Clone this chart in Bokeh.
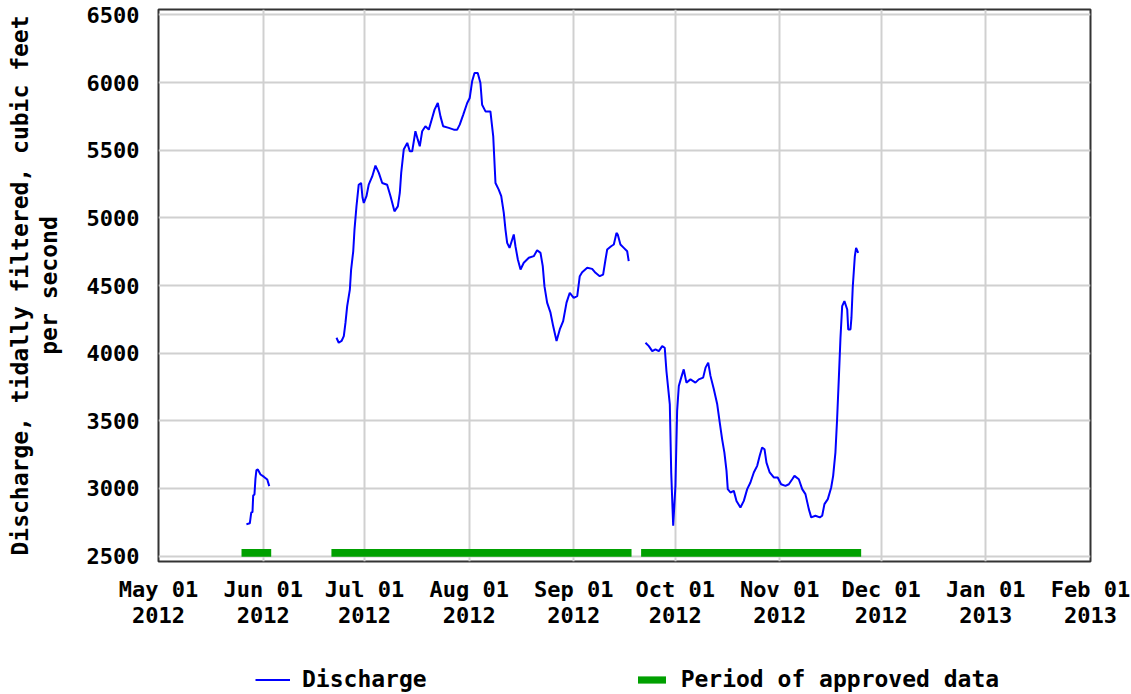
from bokeh.plotting import figure
from bokeh.layouts import column
from bokeh.models import Range1d, FixedTicker, Legend, LegendItem
from bokeh.embed import file_html
from bokeh.resources import INLINE
import pandas as pd

# ---------------- data ----------------
seg1_times = ["2012-05-27 01:00", "2012-05-28 01:00", "2012-05-28 11:00", "2012-05-28 20:00",
              "2012-05-29 01:00", "2012-05-29 10:00", "2012-05-29 17:00", "2012-05-30 00:00",
              "2012-05-30 10:00", "2012-05-31 05:00", "2012-06-01 04:00", "2012-06-02 05:00",
              "2012-06-02 19:00"]
seg1_values = [2736, 2742, 2822, 2825, 2948, 2956, 3071, 3135, 3140, 3103, 3087, 3066, 3017]

seg2_times = ["2012-06-22 17:00", "2012-06-23 09:00", "2012-06-24 05:00", "2012-06-24 21:00",
              "2012-06-25 09:00", "2012-06-25 21:00", "2012-06-26 16:00", "2012-06-27 01:00",
              "2012-06-27 16:00", "2012-06-28 01:00", "2012-06-28 15:00", "2012-06-29 07:00",
              "2012-06-30 00:00", "2012-06-30 10:00", "2012-06-30 19:00", "2012-07-01 14:00",
              "2012-07-02 06:00", "2012-07-03 07:00", "2012-07-04 06:00", "2012-07-05 06:00",
              "2012-07-06 06:00", "2012-07-07 17:00", "2012-07-08 17:00", "2012-07-09 21:00",
              "2012-07-10 21:00", "2012-07-11 11:00", "2012-07-11 21:00", "2012-07-12 15:00",
              "2012-07-13 16:00", "2012-07-14 10:00", "2012-07-15 03:00", "2012-07-16 02:00",
              "2012-07-16 19:00", "2012-07-17 09:00", "2012-07-18 02:00", "2012-07-19 01:00",
              "2012-07-20 01:00", "2012-07-21 01:00", "2012-07-21 18:00", "2012-07-22 17:00",
              "2012-07-23 12:00", "2012-07-24 07:00", "2012-07-25 23:00", "2012-07-27 11:00",
              "2012-07-28 11:00", "2012-07-29 05:00", "2012-07-30 06:00", "2012-07-31 10:00",
              "2012-08-01 04:00", "2012-08-01 21:00", "2012-08-02 14:00", "2012-08-03 13:00",
              "2012-08-04 08:00", "2012-08-04 20:00", "2012-08-05 20:00", "2012-08-07 07:00",
              "2012-08-08 03:00", "2012-08-08 19:00", "2012-08-09 18:00", "2012-08-10 12:00",
              "2012-08-11 06:00", "2012-08-11 18:00", "2012-08-12 06:00", "2012-08-12 23:00",
              "2012-08-13 18:00", "2012-08-14 05:00", "2012-08-14 17:00", "2012-08-15 10:00",
              "2012-08-16 05:00", "2012-08-17 04:00", "2012-08-18 16:00", "2012-08-20 03:00",
              "2012-08-21 03:00", "2012-08-22 03:00", "2012-08-22 19:00", "2012-08-23 07:00",
              "2012-08-24 02:00", "2012-08-25 02:00", "2012-08-25 21:00", "2012-08-26 21:00",
              "2012-08-27 20:00", "2012-08-28 20:00", "2012-08-29 20:00", "2012-08-30 19:00",
              "2012-08-31 23:00", "2012-09-02 00:00", "2012-09-02 18:00", "2012-09-03 11:00",
              "2012-09-04 23:00", "2012-09-06 10:00", "2012-09-07 10:00", "2012-09-08 16:00",
              "2012-09-09 16:00", "2012-09-10 09:00", "2012-09-10 21:00", "2012-09-12 01:00",
              "2012-09-12 20:00", "2012-09-13 15:00", "2012-09-14 00:00", "2012-09-14 19:00",
              "2012-09-15 19:00", "2012-09-16 19:00", "2012-09-17 06:00"]
seg2_values = [4114, 4077, 4090, 4126, 4225, 4348, 4470, 4618, 4753, 4913, 5085, 5245,
               5258, 5150, 5110, 5160, 5245, 5306, 5386, 5332, 5258, 5245, 5160, 5048,
               5085, 5184, 5332, 5505, 5554, 5492, 5492, 5640, 5578, 5529, 5640, 5677,
               5652, 5738, 5800, 5849, 5750, 5677, 5665, 5652, 5652, 5689, 5763, 5849,
               5886, 6009, 6070, 6070, 5997, 5836, 5787, 5787, 5603, 5258, 5209, 5160,
               5037, 4913, 4815, 4778, 4840, 4877, 4790, 4692, 4618, 4668, 4705, 4717,
               4760, 4741, 4643, 4495, 4373, 4299, 4200, 4090, 4175, 4237, 4373, 4446,
               4409, 4421, 4569, 4598, 4631, 4623, 4594, 4569, 4581, 4692, 4766, 4790,
               4803, 4889, 4877, 4803, 4778, 4753, 4680]

seg3_times = ["2012-09-22 05:00", "2012-09-23 05:00", "2012-09-24 05:00", "2012-09-25 04:00",
              "2012-09-26 04:00", "2012-09-27 04:00", "2012-09-27 22:00", "2012-09-28 10:00",
              "2012-09-29 10:00", "2012-09-29 20:00", "2012-09-30 10:00", "2012-10-01 02:00",
              "2012-10-01 14:00", "2012-10-02 02:00", "2012-10-02 19:00", "2012-10-03 13:00",
              "2012-10-04 08:00", "2012-10-05 13:00", "2012-10-07 00:00", "2012-10-08 00:00",
              "2012-10-09 07:00", "2012-10-10 00:00", "2012-10-10 19:00", "2012-10-11 11:00",
              "2012-10-12 11:00", "2012-10-13 11:00", "2012-10-14 05:00", "2012-10-14 22:00",
              "2012-10-15 14:00", "2012-10-16 05:00", "2012-10-16 14:00", "2012-10-17 09:00",
              "2012-10-18 09:00", "2012-10-19 04:00", "2012-10-20 08:00", "2012-10-21 08:00",
              "2012-10-22 08:00", "2012-10-23 07:00", "2012-10-24 07:00", "2012-10-25 07:00",
              "2012-10-26 01:00", "2012-10-26 18:00", "2012-10-27 11:00", "2012-10-28 01:00",
              "2012-10-29 00:00", "2012-10-30 05:00", "2012-10-31 09:00", "2012-11-01 09:00",
              "2012-11-02 16:00", "2012-11-03 16:00", "2012-11-04 16:00", "2012-11-05 08:00",
              "2012-11-06 15:00", "2012-11-07 15:00", "2012-11-08 14:00", "2012-11-09 14:00",
              "2012-11-10 07:00", "2012-11-11 13:00", "2012-11-12 20:00", "2012-11-13 13:00",
              "2012-11-14 05:00", "2012-11-15 05:00", "2012-11-16 05:00", "2012-11-16 19:00",
              "2012-11-17 11:00", "2012-11-17 23:00", "2012-11-18 11:00", "2012-11-18 23:00",
              "2012-11-19 11:00", "2012-11-20 03:00", "2012-11-20 23:00", "2012-11-21 06:00",
              "2012-11-21 22:00", "2012-11-22 05:00", "2012-11-22 14:00", "2012-11-23 05:00",
              "2012-11-23 14:00", "2012-11-24 05:00"]
seg3_values = [4077, 4052, 4015, 4028, 4015, 4052, 4040, 3868, 3622, 3118, 2724, 3019,
               3572, 3757, 3819, 3880, 3782, 3806, 3782, 3806, 3819, 3893, 3930, 3832,
               3733, 3622, 3487, 3363, 3265, 3130, 2995, 2970, 2982, 2908, 2859, 2908,
               2995, 3044, 3118, 3167, 3241, 3302, 3290, 3191, 3118, 3081, 3081, 3031,
               3019, 3031, 3068, 3093, 3068, 2995, 2958, 2847, 2786, 2798, 2786, 2798,
               2884, 2921, 3007, 3093, 3265, 3511, 3806, 4114, 4347, 4385, 4323, 4175,
               4175, 4262, 4483, 4716, 4778, 4741]

approved_start = ["2012-05-25 14:00", "2012-06-21 05:00", "2012-09-20 22:00"]
approved_end = ["2012-06-03 09:00", "2012-09-18 02:00", "2012-11-25 02:00"]

tick_dates = ["2012-05-01", "2012-06-01", "2012-07-01", "2012-08-01", "2012-09-01",
              "2012-10-01", "2012-11-01", "2012-12-01", "2013-01-01", "2013-02-01"]
tick_labels = ["May 01\n2012", "Jun 01\n2012", "Jul 01\n2012", "Aug 01\n2012", "Sep 01\n2012",
               "Oct 01\n2012", "Nov 01\n2012", "Dec 01\n2012", "Jan 01\n2013", "Feb 01\n2013"]
y_ticks = [2500, 3000, 3500, 4000, 4500, 5000, 5500, 6000, 6500]
legend_labels = ["Discharge", "Period of approved data"]

# ---------------- main figure ----------------
FONT = "DejaVu Sans Mono"
blue = "#0000ff"
green = "#00a000"

x_start = pd.Timestamp(tick_dates[0])
x_end = pd.Timestamp(tick_dates[-1])

p = figure(width=1131, height=631, x_axis_type="datetime",
           output_backend="svg", toolbar_location=None,
           min_border_left=158, min_border_right=41, min_border_top=9, min_border_bottom=70,
           x_range=Range1d(x_start, x_end), y_range=Range1d(2460, 6540))

p.outline_line_color = "#333333"
p.outline_line_width = 2

p.line(pd.to_datetime(seg1_times), seg1_values, line_color=blue, line_width=2)
p.line(pd.to_datetime(seg2_times), seg2_values, line_color=blue, line_width=2)
p.line(pd.to_datetime(seg3_times), seg3_values, line_color=blue, line_width=2)

s = pd.to_datetime(approved_start)
e = pd.to_datetime(approved_end)
p.hbar(y=[2523] * len(s), left=s, right=e, height=57, fill_color=green, line_color=None)

tick_ms = [int(pd.Timestamp(d).value // 10**6) for d in tick_dates]
p.xaxis.ticker = FixedTicker(ticks=tick_ms)
p.xaxis.major_label_overrides = {t: lab for t, lab in zip(tick_ms, tick_labels)}
p.yaxis.ticker = FixedTicker(ticks=y_ticks)

for ax in (p.xaxis[0], p.yaxis[0]):
    ax.axis_line_color = None
    ax.major_tick_line_color = None
    ax.minor_tick_line_color = None
    ax.major_tick_out = 0
    ax.major_tick_in = 0
    ax.minor_tick_out = 0
    ax.minor_tick_in = 0
    ax.major_label_text_font = FONT
    ax.major_label_text_font_style = "bold"
    ax.major_label_text_font_size = "22px"
    ax.major_label_text_color = "#000000"

p.xaxis.major_label_standoff = 15
p.xaxis.major_label_text_line_height = 1.05

p.yaxis.major_label_standoff = 19
p.yaxis.axis_label = "Discharge, tidally filtered, cubic feet\nper second"
p.yaxis.axis_label_text_font = FONT
p.yaxis.axis_label_text_font_style = "bold"
p.yaxis.axis_label_text_font_size = "23px"
p.yaxis.axis_label_text_color = "#000000"
p.yaxis.axis_label_text_line_height = 1.08
p.yaxis.axis_label_standoff = 22

p.xgrid.grid_line_color = "#d0d0d0"
p.ygrid.grid_line_color = "#d0d0d0"
p.xgrid.grid_line_width = 2
p.ygrid.grid_line_width = 2

# ---------------- legend strip (its frame is aligned with the main frame) ----------------
q = figure(width=1131, height=63, x_axis_type="datetime",
           output_backend="svg", toolbar_location=None,
           x_axis_location=None, y_axis_location=None,
           min_border_left=158, min_border_right=41, min_border_top=0, min_border_bottom=0,
           x_range=Range1d(x_start, x_end), y_range=Range1d(0, 1))
q.outline_line_color = None
q.grid.visible = False
# hidden copies of the series: they only supply the legend swatches
lr = q.line(pd.to_datetime(seg1_times), seg1_values, line_color=blue, line_width=2, visible=False)
br = q.hbar(y=[2523] * len(s), left=s, right=e, height=57, fill_color=green, line_color=None,
            visible=False)

legend = Legend(items=[LegendItem(label=legend_labels[0], renderers=[lr]),
                       LegendItem(label=legend_labels[1], renderers=[br])],
                orientation="horizontal", location=(97, 2), spacing=207,
                padding=0, margin=0, glyph_width=35, glyph_height=9, label_standoff=12,
                border_line_color=None, background_fill_alpha=0,
                inactive_fill_alpha=0,
                label_text_font=FONT, label_text_font_style="bold",
                label_text_font_size="23px", label_text_color="#000000")
q.add_layout(legend, "center")

layout = column(p, q, spacing=0)
open("out.html", "w").write(file_html(layout, INLINE))
